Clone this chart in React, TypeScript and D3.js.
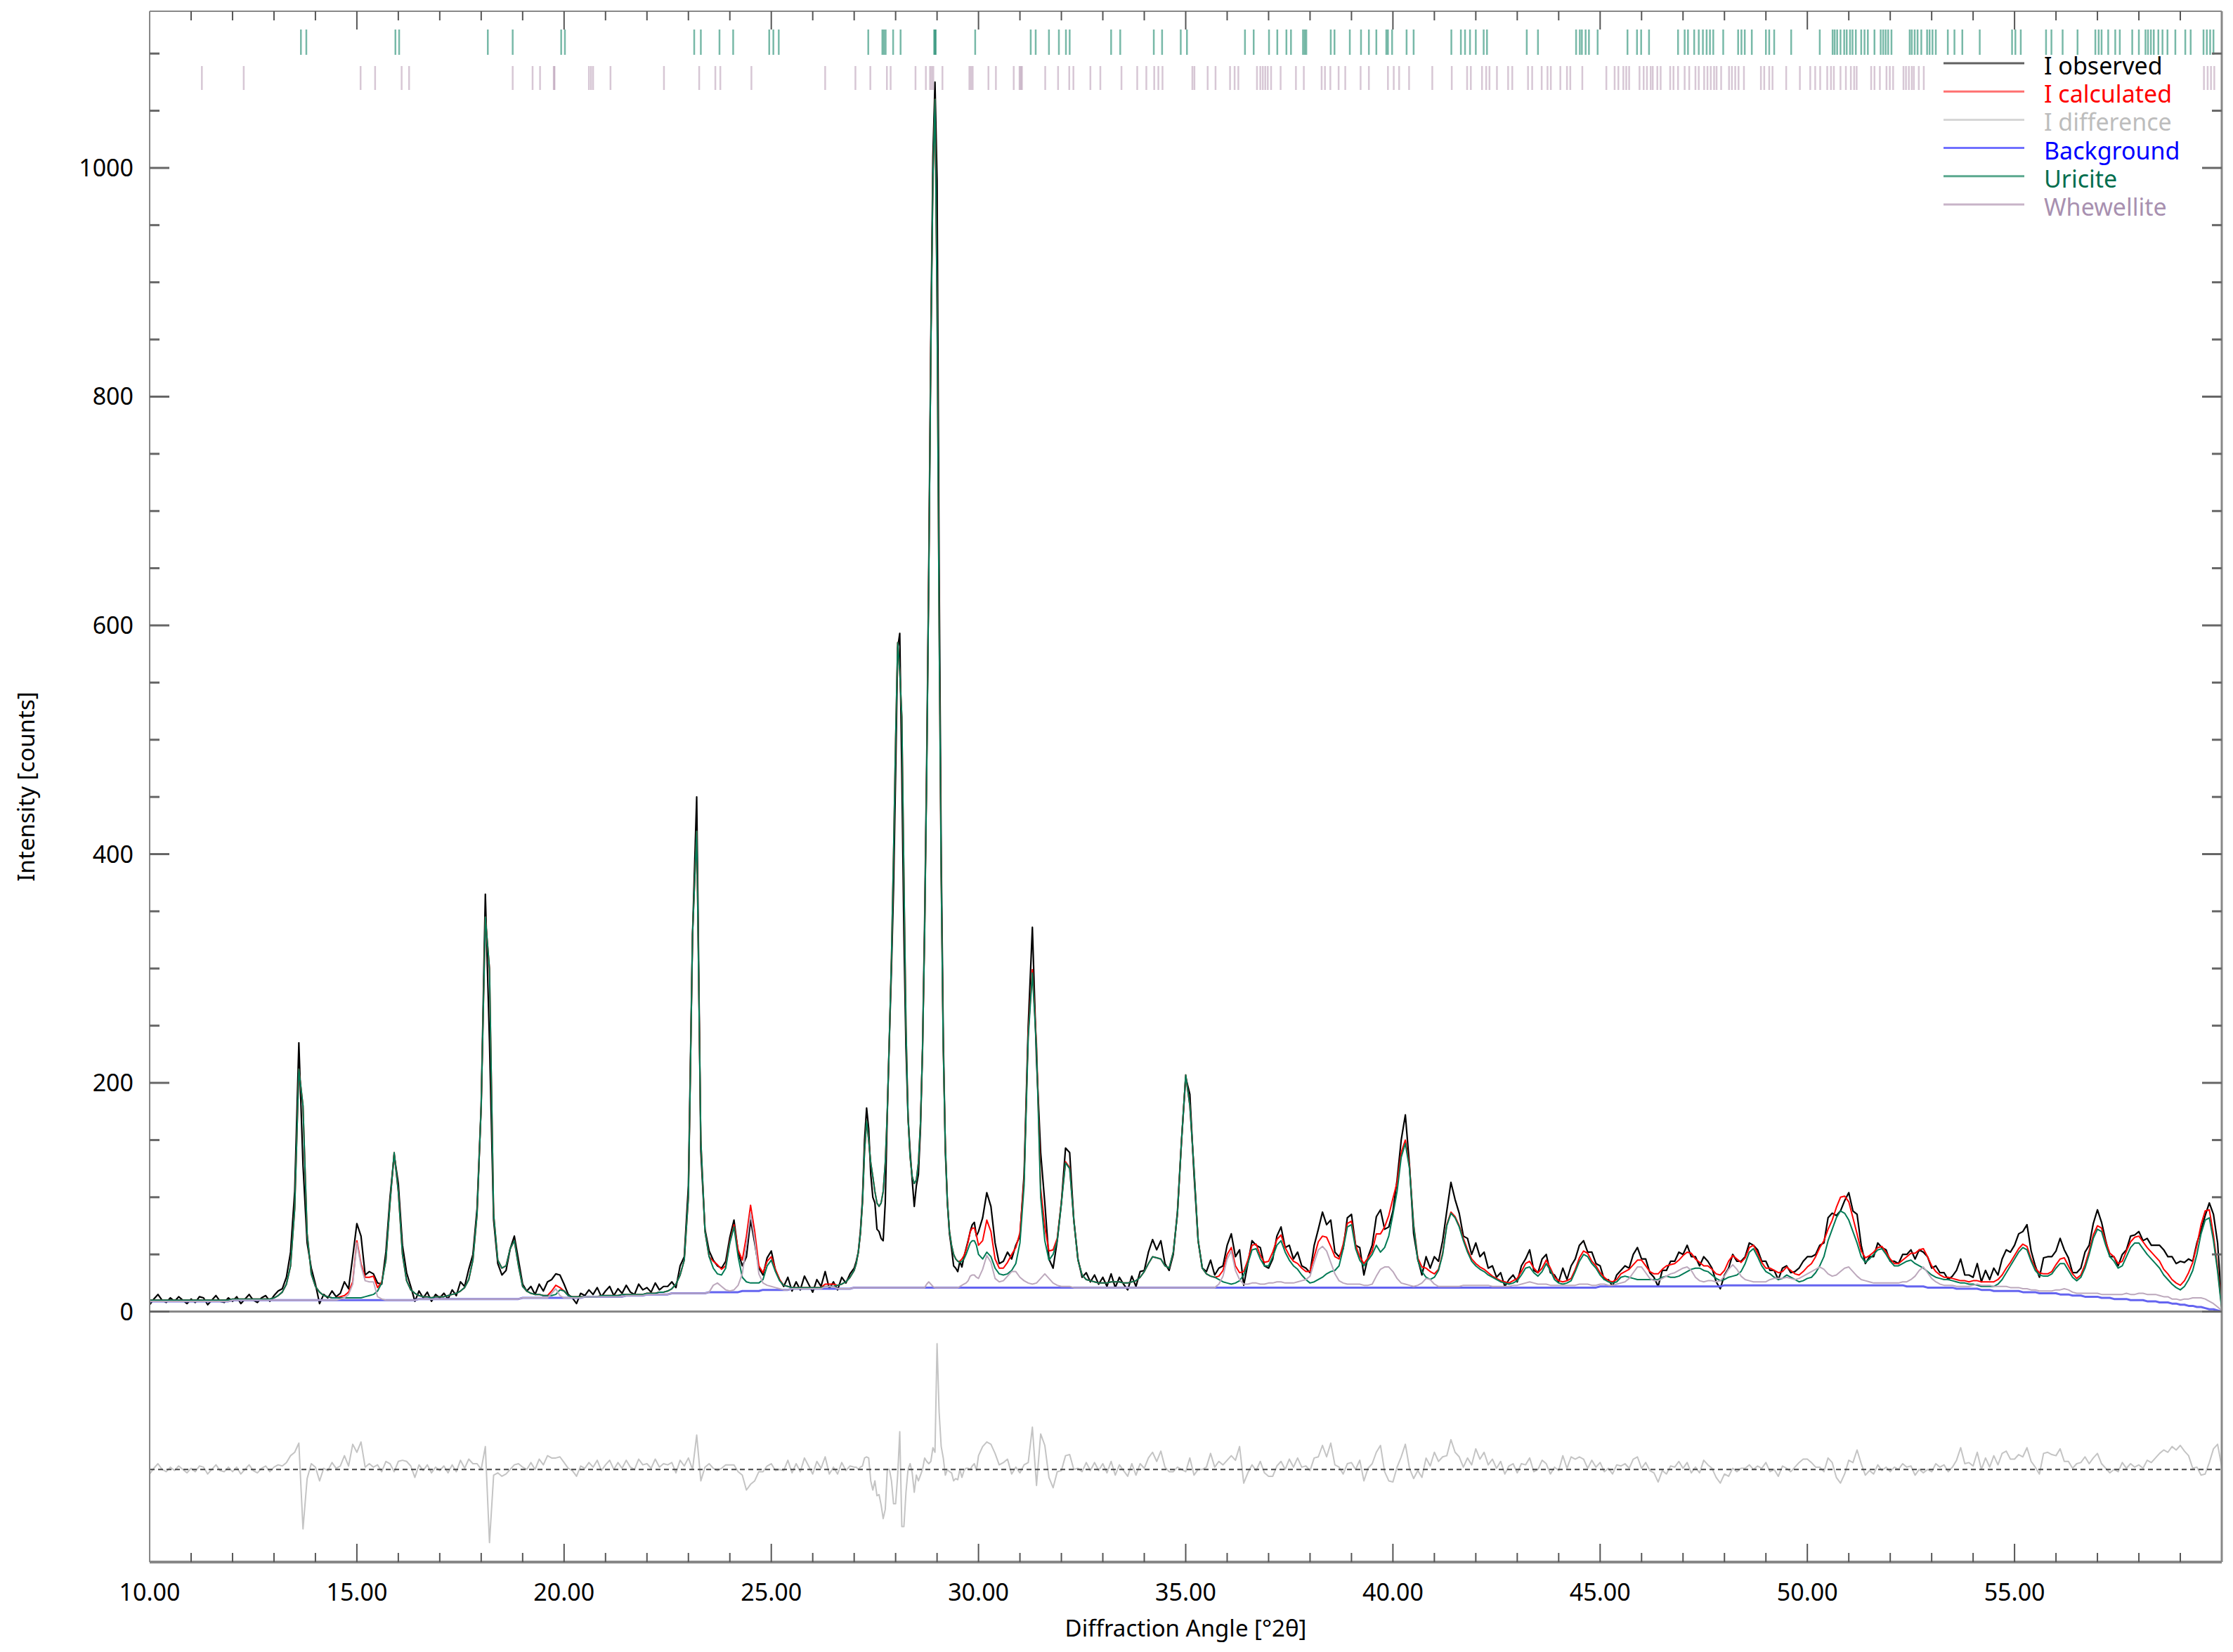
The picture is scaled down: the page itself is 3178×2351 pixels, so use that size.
import React from 'react';
import * as d3 from 'd3';

// 2θ grid of the scan: 0.1° steps, 0.05° around the strongest reflections
const twoTheta: number[] = [
  ...d3.range(100, 270).map((i) => i / 10),
  ...d3.range(540, 600).map((i) => i / 20),
  ...d3.range(300, 601).map((i) => i / 10),
];

// I observed [counts]
const obsA = [
  6, 11, 15, 10, 8, 12, 9, 13, 10, 7,
  11, 8, 13, 12, 6, 10, 14, 9, 8, 12,
  9, 13, 7, 11, 15, 10, 8, 12, 14, 9,
  14, 18, 20, 30, 52, 105, 235, 128, 60, 38,
  24, 7, 15, 12, 18, 13, 16, 26, 20, 48,
  77, 66, 32, 35, 33, 25, 24, 52, 100, 137,
  112, 58, 34, 22, 9, 18, 12, 17, 9, 15,
  12, 16, 11, 19, 14, 26, 22, 37, 50, 90,
  180, 365, 236, 80, 42, 32, 36, 55, 66, 45,
  24, 18, 22, 15, 24, 18, 26, 28, 33, 32,
  24, 15, 12, 7, 16, 14, 19, 15, 21, 13,
  18, 22, 14, 20, 16, 23, 17, 15, 24, 19,
  21, 17, 25, 19, 22, 22, 26, 21, 40, 48,
  110, 330, 450, 140, 72, 53, 45, 40, 38, 44,
  65, 80, 52, 40, 48, 80, 60, 38, 32, 47,
  53, 36, 28, 22, 30, 18, 26, 19, 31, 24,
  17, 28, 22, 35, 20, 26, 19, 30, 25, 33,
];
const obsB = [
  38, 44, 52, 70, 98, 150, 178, 160, 120, 100,
  95, 72, 70, 64, 62, 95, 175, 240, 300, 370,
  470, 580, 593, 470, 330, 230, 170, 140, 115, 92,
  110, 120, 160, 230, 340, 480, 650, 850, 1010, 1075,
  990, 650, 400, 240, 140, 95, 68, 55, 40, 38,
  35, 44, 39, 48, 55, 62, 70, 76, 78, 66,
];
const obsC = [
  70, 82, 104, 92, 60, 42, 44, 52, 46, 58,
  66, 120, 250, 336, 220, 139, 95, 46, 38, 62,
  95, 143, 139, 80, 46, 30, 34, 26, 32, 24,
  30, 22, 33, 21, 30, 24, 19, 31, 22, 35,
  36, 52, 63, 54, 62, 42, 36, 50, 87, 150,
  205, 190, 120, 62, 38, 35, 45, 32, 38, 40,
  58, 68, 48, 54, 23, 42, 62, 58, 56, 40,
  38, 46, 66, 74, 56, 58, 46, 52, 40, 38,
  34, 58, 72, 87, 76, 80, 52, 48, 55, 82,
  85, 58, 56, 32, 48, 58, 83, 89, 72, 74,
  88, 115, 150, 172, 128, 68, 46, 32, 48, 38,
  48, 44, 62, 88, 113, 98, 86, 66, 64, 50,
  60, 48, 52, 38, 40, 30, 34, 22, 28, 32,
  26, 40, 46, 54, 36, 34, 46, 50, 34, 32,
  26, 38, 28, 40, 46, 58, 62, 52, 52, 42,
  40, 28, 28, 22, 32, 36, 40, 38, 50, 56,
  46, 46, 34, 30, 22, 36, 36, 44, 44, 52,
  50, 58, 48, 48, 40, 48, 44, 38, 26, 20,
  32, 38, 50, 44, 44, 48, 60, 58, 54, 44,
  44, 36, 36, 28, 38, 40, 34, 35, 38, 44,
  48, 48, 50, 58, 60, 82, 86, 84, 88, 97,
  104, 88, 85, 58, 42, 48, 48, 60, 56, 54,
  44, 44, 42, 50, 50, 54, 46, 54, 52, 48,
  38, 40, 34, 34, 28, 31, 36, 46, 32, 32,
  30, 42, 26, 36, 28, 38, 32, 46, 54, 52,
  58, 68, 70, 76, 53, 40, 30, 47, 48, 48,
  53, 64, 54, 47, 34, 34, 38, 52, 58, 77,
  89, 78, 62, 48, 48, 40, 50, 54, 66, 67,
  70, 62, 64, 58, 58, 58, 54, 48, 48, 42,
  44, 43, 46, 44, 60, 71, 84, 95, 85, 60,
  5,
];

// Uricite phase curve (background included)
const uriA = [
  10, 10, 10, 10, 10, 10, 10, 10, 10, 10,
  10, 10, 10, 10, 10, 10, 10, 10, 10, 10,
  11, 11, 11, 11, 11, 11, 11, 11, 11, 11,
  12, 14, 17, 24, 40, 90, 212, 180, 68, 33,
  22, 17, 14, 13, 12, 12, 12, 12, 12, 12,
  12, 12, 13, 14, 15, 18, 25, 45, 95, 139,
  105, 50, 27, 19, 16, 14, 13, 13, 12, 13,
  13, 13, 14, 15, 16, 18, 21, 28, 45, 85,
  180, 345, 300, 85, 45, 38, 40, 55, 62, 40,
  22, 18, 16, 15, 15, 14, 14, 14, 15, 19,
  18, 14, 13, 13, 13, 13, 13, 13, 13, 14,
  14, 14, 14, 14, 15, 15, 15, 15, 15, 15,
  16, 16, 16, 17, 17, 18, 20, 24, 32, 45,
  100, 330, 420, 150, 70, 48, 38, 33, 32, 38,
  60, 74, 48, 30, 26, 25, 25, 25, 28, 40,
  45, 35, 27, 23, 22, 21, 21, 21, 21, 21,
  21, 21, 21, 22, 22, 22, 23, 24, 26, 30,
];
const uriB = [
  36, 42, 52, 68, 95, 140, 167, 150, 130, 118,
  105, 95, 92, 95, 105, 130, 175, 240, 310, 400,
  500, 585, 560, 520, 380, 250, 170, 135, 118, 112,
  115, 130, 165, 230, 330, 470, 640, 840, 990, 1060,
  880, 600, 380, 230, 145, 95, 70, 58, 50, 46,
  44, 43, 44, 46, 50, 55, 60, 62, 62, 58,
];
const uriC = [
  50, 46, 52, 48, 38, 33, 32, 33, 36, 42,
  60, 110, 240, 296, 230, 100, 62, 45, 50, 62,
  95, 130, 125, 80, 45, 32, 28, 27, 26, 25,
  25, 25, 26, 26, 26, 25, 25, 26, 27, 30,
  35, 42, 48, 47, 46, 40, 38, 52, 85, 150,
  207, 180, 125, 62, 38, 33, 31, 30, 28, 26,
  25, 24, 25, 27, 32, 42, 54, 55, 46, 40,
  40, 48, 58, 62, 52, 45, 40, 37, 32, 28,
  25, 26, 28, 30, 33, 35, 36, 40, 55, 74,
  76, 55, 45, 40, 45, 50, 58, 52, 56, 66,
  85, 105, 135, 147, 125, 75, 45, 35, 30, 28,
  30, 36, 50, 75, 86, 82, 74, 62, 52, 44,
  40, 37, 35, 32, 30, 28, 26, 25, 24, 25,
  27, 32, 38, 39, 34, 31, 35, 42, 36, 28,
  25, 24, 25, 27, 35, 44, 50, 48, 42, 38,
  32, 28, 26, 25, 26, 30, 31, 30, 29, 28,
  28, 28, 28, 28, 28, 30, 31, 30, 30, 31,
  33, 35, 37, 38, 38, 36, 35, 32, 29, 27,
  28, 30, 31, 32, 35, 42, 52, 55, 48, 40,
  35, 33, 30, 28, 29, 32, 30, 28, 26, 27,
  29, 30, 34, 40, 48, 62, 72, 82, 88, 86,
  80, 70, 60, 48, 43, 46, 50, 54, 55, 50,
  44, 40, 40, 42, 44, 45, 42, 40, 38, 35,
  32, 30, 29, 28, 28, 27, 26, 25, 25, 24,
  24, 23, 22, 22, 22, 22, 24, 28, 34, 40,
  46, 52, 56, 54, 44, 36, 32, 31, 31, 33,
  38, 42, 42, 36, 30, 27, 30, 38, 50, 64,
  72, 70, 58, 48, 44, 38, 40, 48, 56, 60,
  60, 55, 50, 46, 42, 38, 32, 28, 24, 21,
  19, 22, 28, 36, 50, 68, 80, 82, 62, 35,
  2,
];

// Whewellite contribution above the background
const wheA = [
  0, 0, 0, 0, 0, 0, 0, 0, 0, 0,
  0, 0, 0, 0, 0, 0, 0, 0, 0, 0,
  0, 0, 0, 0, 0, 0, 0, 0, 0, 0,
  0, 0, 0, 0, 0, 0, 0, 0, 0, 0,
  0, 0, 0, 0, 0, 0, 1, 2, 5, 14,
  50, 30, 17, 16, 16, 3, 1, 0, 0, 0,
  0, 0, 0, 0, 0, 0, 0, 0, 0, 0,
  0, 0, 0, 0, 0, 0, 0, 0, 0, 0,
  0, 0, 0, 0, 0, 0, 0, 0, 0, 0,
  0, 0, 0, 0, 0, 0, 0, 4, 8, 2,
  0, 0, 0, 0, 0, 0, 0, 0, 0, 0,
  0, 0, 0, 0, 0, 0, 0, 0, 0, 0,
  0, 0, 0, 0, 0, 0, 0, 0, 0, 0,
  0, 0, 0, 0, 0, 0, 6, 8, 5, 2,
  1, 2, 6, 15, 40, 68, 45, 15, 6, 4,
  3, 2, 1, 0, 0, 0, 0, 0, 0, 0,
  0, 0, 0, 2, 2, 2, 0, 0, 0, 0,
];
const wheB = [
  0, 0, 0, 0, 0, 0, 0, 0, 0, 0,
  0, 0, 0, 0, 0, 0, 0, 0, 0, 0,
  0, 0, 0, 0, 0, 0, 0, 0, 0, 0,
  0, 0, 0, 0, 0, 3, 5, 3, 1, 0,
  0, 0, 0, 0, 0, 0, 0, 0, 0, 0,
  0, 1, 2, 3, 4, 6, 10, 11, 11, 9,
];
const wheC = [
  8, 16, 28, 22, 8, 5, 6, 10, 14, 14,
  9, 6, 4, 3, 4, 8, 12, 8, 4, 2,
  1, 1, 1, 0, 0, 0, 0, 0, 0, 0,
  0, 0, 0, 0, 0, 0, 0, 0, 0, 0,
  0, 0, 0, 0, 0, 0, 0, 0, 0, 0,
  0, 0, 0, 0, 0, 0, 0, 0, 3, 10,
  25, 32, 15, 7, 3, 3, 4, 4, 3, 3,
  4, 4, 5, 5, 4, 4, 4, 5, 6, 7,
  10, 22, 33, 36, 32, 22, 12, 6, 4, 3,
  3, 3, 3, 2, 2, 3, 10, 16, 18, 18,
  14, 8, 4, 3, 2, 1, 2, 4, 8, 7,
  3, 1, 1, 1, 1, 1, 1, 2, 2, 2,
  2, 2, 2, 2, 1, 1, 1, 1, 1, 2,
  2, 3, 4, 5, 4, 3, 3, 3, 2, 2,
  2, 2, 2, 2, 2, 3, 3, 3, 2, 2,
  2, 2, 1, 1, 2, 3, 4, 7, 12, 17,
  17, 12, 7, 5, 5, 7, 9, 11, 12, 14,
  16, 17, 14, 8, 5, 4, 5, 5, 4, 5,
  8, 14, 18, 14, 8, 5, 4, 3, 3, 3,
  3, 5, 6, 6, 6, 7, 6, 5, 6, 8,
  10, 12, 14, 16, 14, 10, 8, 9, 12, 15,
  16, 12, 8, 5, 4, 3, 2, 2, 2, 2,
  2, 2, 2, 3, 4, 6, 9, 14, 17, 13,
  8, 5, 3, 2, 2, 2, 2, 2, 2, 2,
  3, 4, 4, 4, 4, 4, 4, 4, 4, 3,
  3, 3, 3, 3, 2, 2, 2, 2, 2, 2,
  3, 4, 5, 4, 3, 2, 2, 3, 3, 3,
  3, 3, 3, 3, 4, 4, 4, 5, 5, 5,
  6, 6, 6, 6, 6, 6, 5, 5, 4, 4,
  4, 5, 6, 7, 8, 8, 8, 7, 5, 3,
  1,
];

// Background
const bgA = [
  9, 9, 9, 9, 9, 9, 9, 9, 9, 9,
  9, 9, 9, 9, 9, 9, 9, 9, 9, 9,
  10, 10, 10, 10, 10, 10, 10, 10, 10, 10,
  10, 10, 10, 10, 10, 10, 10, 10, 10, 10,
  10, 10, 10, 10, 10, 10, 10, 10, 10, 10,
  10, 10, 10, 10, 10, 10, 10, 10, 10, 10,
  10, 10, 10, 10, 10, 11, 11, 11, 11, 11,
  11, 11, 11, 11, 11, 11, 11, 11, 11, 11,
  11, 11, 11, 11, 11, 11, 11, 11, 11, 11,
  12, 12, 12, 12, 12, 12, 12, 12, 12, 12,
  12, 12, 12, 12, 12, 13, 13, 13, 13, 13,
  13, 13, 13, 13, 13, 14, 14, 14, 14, 14,
  15, 15, 15, 15, 15, 15, 16, 16, 16, 16,
  16, 16, 16, 16, 16, 17, 17, 17, 17, 17,
  17, 17, 17, 18, 18, 18, 18, 18, 19, 19,
  19, 19, 19, 19, 19, 20, 20, 20, 20, 20,
  20, 20, 20, 20, 20, 20, 20, 20, 20, 20,
];
const bgB = [
  21, 21, 21, 21, 21, 21, 21, 21, 21, 21,
  21, 21, 21, 21, 21, 21, 21, 21, 21, 21,
  21, 21, 21, 21, 21, 21, 21, 21, 21, 21,
  21, 21, 21, 21, 21, 21, 21, 21, 21, 21,
  21, 21, 21, 21, 21, 21, 21, 21, 21, 21,
  21, 21, 21, 21, 21, 21, 21, 21, 21, 21,
];
const bgC = [
  21, 21, 21, 21, 21, 21, 21, 21, 21, 21,
  21, 21, 21, 21, 21, 21, 21, 21, 21, 21,
  21, 21, 21, 21, 21, 21, 21, 21, 21, 21,
  21, 21, 21, 21, 21, 21, 21, 21, 21, 21,
  21, 21, 21, 21, 21, 21, 21, 21, 21, 21,
  21, 21, 21, 21, 21, 21, 21, 21, 21, 21,
  21, 21, 21, 21, 21, 21, 21, 21, 21, 21,
  21, 21, 21, 21, 21, 21, 21, 21, 21, 21,
  21, 21, 21, 21, 21, 21, 21, 21, 21, 21,
  21, 21, 21, 21, 21, 21, 21, 21, 21, 21,
  21, 21, 21, 21, 21, 21, 21, 21, 21, 21,
  21, 21, 21, 21, 21, 21, 21, 21, 21, 21,
  21, 21, 21, 21, 21, 21, 21, 21, 21, 21,
  21, 21, 21, 21, 21, 21, 21, 21, 21, 21,
  21, 21, 21, 21, 21, 21, 21, 21, 21, 21,
  22, 22, 22, 22, 22, 22, 22, 22, 22, 22,
  22, 22, 22, 22, 22, 22, 22, 22, 22, 22,
  22, 22, 22, 22, 22, 22, 22, 22, 22, 22,
  23, 23, 23, 23, 23, 23, 23, 23, 23, 23,
  23, 23, 23, 23, 23, 23, 23, 23, 23, 23,
  23, 23, 23, 23, 23, 23, 23, 23, 23, 23,
  23, 23, 23, 23, 23, 23, 23, 23, 23, 23,
  23, 23, 23, 23, 22, 22, 22, 22, 22, 21,
  21, 21, 21, 21, 21, 21, 20, 20, 20, 20,
  20, 20, 19, 19, 19, 18, 18, 18, 18, 18,
  18, 18, 17, 17, 17, 17, 16, 16, 16, 16,
  16, 15, 15, 15, 14, 14, 14, 13, 13, 13,
  13, 12, 12, 12, 11, 11, 11, 11, 10, 10,
  10, 10, 9, 9, 9, 8, 8, 8, 7, 7,
  6, 6, 5, 5, 4, 4, 3, 2, 2, 1,
  0,
];

// reflection positions (°2θ)
const uriciteTicks = [
  13.65, 13.78, 15.93, 16.02, 18.16, 18.76, 19.93, 20.02, 23.14, 23.3, 23.75, 24.08,
  24.95, 25.05, 25.18, 27.34, 27.68, 27.72, 27.76, 27.94, 28.12, 28.93, 28.95, 28.97,
  29.92, 31.26, 31.38, 31.7, 31.94, 32.11, 32.2, 33.2, 33.42, 34.23, 34.43, 34.88,
  35.03, 36.43, 36.64, 37.01, 37.21, 37.43, 37.54, 37.83, 37.87, 37.91, 38.5, 38.59,
  38.96, 39.23, 39.42, 39.6, 39.84, 39.88, 39.98, 40.33, 40.5, 41.41, 41.64, 41.74,
  41.86, 42.0, 42.19, 42.27, 43.23, 43.5, 44.42, 44.51, 44.56, 44.65, 44.73, 44.94,
  45.66, 45.89, 45.99, 46.18, 46.88, 47.04, 47.12, 47.27, 47.38, 47.48, 47.57, 47.65,
  47.73, 47.97, 48.33, 48.41, 48.49, 48.66, 49.0, 49.08, 49.2, 49.61, 50.3, 50.61,
  50.66, 50.72, 50.8, 50.89, 50.95, 51.03, 51.09, 51.17, 51.3, 51.38, 51.46, 51.62,
  51.77, 51.83, 51.89, 51.95, 52.03, 52.47, 52.52, 52.59, 52.66, 52.75, 52.89, 52.95,
  53.02, 53.1, 53.39, 53.55, 53.74, 54.16, 54.94, 55.02, 55.15, 55.76, 55.89, 56.16,
  56.52, 56.95, 57.03, 57.1, 57.26, 57.43, 57.54, 57.84, 58.0, 58.16, 58.22, 58.29,
  58.36, 58.47, 58.57, 58.69, 58.88, 59.12, 59.25, 59.56, 59.64, 59.72, 59.8,
];
const whewelliteTicks = [
  11.26, 12.27, 15.09, 15.44, 16.08, 16.26, 18.76, 19.24, 19.42, 19.75, 19.77, 20.6,
  20.65, 20.7, 21.12, 22.41, 23.26, 23.65, 23.77, 24.52, 26.3, 27.03, 27.39, 27.79,
  27.88, 28.48, 28.73, 28.83, 28.87, 28.91, 29.13, 29.78, 29.82, 29.86, 30.24, 30.42,
  30.85, 30.99, 31.02, 31.05, 31.61, 31.92, 32.19, 32.29, 32.7, 32.94, 33.45, 33.83,
  34.05, 34.24, 34.34, 34.44, 35.16, 35.21, 35.53, 35.72, 36.07, 36.18, 36.27, 36.72,
  36.8, 36.86, 36.92, 36.98, 37.06, 37.29, 37.66, 37.85, 38.28, 38.36, 38.49, 38.69,
  38.85, 39.22, 39.42, 39.88, 40.02, 40.15, 40.39, 40.95, 41.42, 41.79, 41.88, 42.15,
  42.25, 42.33, 42.51, 42.78, 42.88, 43.26, 43.36, 43.59, 43.73, 43.81, 44.04, 44.2,
  44.28, 44.57, 45.15, 45.35, 45.44, 45.56, 45.63, 45.7, 45.95, 46.05, 46.13, 46.22,
  46.27, 46.38, 46.46, 46.69, 46.77, 46.88, 47.04, 47.15, 47.3, 47.38, 47.51, 47.59,
  47.67, 47.75, 47.81, 47.92, 48.11, 48.18, 48.26, 48.34, 48.47, 48.88, 48.96, 49.08,
  49.16, 49.49, 49.82, 50.07, 50.19, 50.31, 50.48, 50.57, 50.64, 50.8, 50.93, 51.05,
  51.13, 51.19, 51.54, 51.62, 51.75, 51.91, 51.99, 52.07, 52.32, 52.38, 52.45, 52.52,
  52.57, 52.69, 52.81, 59.57, 59.66, 59.74, 59.82,
];

const xTickLabels = [10, 15, 20, 25, 30, 35, 40, 45, 50, 55];
const yTickLabels = [0, 200, 400, 600, 800, 1000];

const legendItems = [
  { label: 'I observed', line: '#606060', text: '#000000' },
  { label: 'I calculated', line: '#ff7070', text: '#ff0000' },
  { label: 'I difference', line: '#d6d6d6', text: '#bdbdbd' },
  { label: 'Background', line: '#7070ff', text: '#0000ff' },
  { label: 'Uricite', line: '#5aa88e', text: '#006e4e' },
  { label: 'Whewellite', line: '#c8b4c8', text: '#a890b0' },
];

const W = 3178;
const H = 2351;
const left = 213;
const right = 3162;
const top = 16;
const bottom = 2223;
const diffOffset = -138;
const font = '"Noto Sans", "DejaVu Sans", sans-serif';

export default function App() {
  const observed = [...obsA, ...obsB, ...obsC];
  const uricite = [...uriA, ...uriB, ...uriC];
  const wheExcess = [...wheA, ...wheB, ...wheC];
  const background = [...bgA, ...bgB, ...bgC];
  const calculated = uricite.map((u, i) => u + wheExcess[i]);
  const whewellite = background.map((b, i) => b + wheExcess[i]);
  const difference = observed.map((o, i) => o - calculated[i] + diffOffset);

  const x = d3.scaleLinear().domain([10, 60]).range([left, right]);
  const y = d3.scaleLinear().domain([-219, 1137]).range([bottom, top]);

  const line = d3
    .line<number>()
    .x((_, i) => x(twoTheta[i]))
    .y((d) => y(d));

  const fmt = d3.format('.2f');
  const degTicks = d3.range(11, 60);
  const countTicks = d3.range(0, 1101, 50);

  return (
    <svg
      width={W}
      height={H}
      viewBox={`0 0 ${W} ${H}`}
      style={{ position: 'absolute', left: 0, top: 0, display: 'block', background: '#fff' }}
      fontFamily={font}
    >
      <defs>
        <clipPath id="plot">
          <rect x={left} y={top} width={right - left} height={bottom - top} />
        </clipPath>
      </defs>
      <rect width={W} height={H} fill="#fff" />

      {/* curves */}
      <g clipPath="url(#plot)" fill="none" strokeLinejoin="round">
        <path d={line(observed) || ''} stroke="#000" strokeWidth={2.2} />
        <path d={line(calculated) || ''} stroke="#ff0000" strokeWidth={2} />
        <path d={line(difference) || ''} stroke="#c4c4c4" strokeWidth={2} />
        <line
          x1={left}
          x2={right}
          y1={y(diffOffset)}
          y2={y(diffOffset)}
          stroke="#444"
          strokeWidth={2}
          strokeDasharray="7 5"
        />
        <path d={line(background) || ''} stroke="#6464f0" strokeWidth={3} />
        <path d={line(uricite) || ''} stroke="#007a55" strokeWidth={2} />
        <path d={line(whewellite) || ''} stroke="#bca8bc" strokeWidth={2} />
      </g>

      {/* reflection markers */}
      <g strokeWidth={2.5}>
        {uriciteTicks.map((d, i) => (
          <line key={`u${i}`} x1={x(d)} x2={x(d)} y1={42} y2={78} stroke="#0a8060" strokeOpacity={0.55} />
        ))}
        {whewelliteTicks.map((d, i) => (
          <line key={`w${i}`} x1={x(d)} x2={x(d)} y1={94} y2={128} stroke="#9a7395" strokeOpacity={0.4} />
        ))}
      </g>

      {/* zero line */}
      <line x1={left} x2={right} y1={y(0)} y2={y(0)} stroke="#888" strokeWidth={3} />

      {/* frame */}
      <line x1={left} x2={right} y1={top} y2={top} stroke="#888" strokeWidth={2} />
      <line x1={left} x2={left} y1={top} y2={bottom} stroke="#888" strokeWidth={2} />
      <line x1={right} x2={right} y1={top} y2={bottom} stroke="#888" strokeWidth={3} />
      <line x1={left} x2={right} y1={bottom} y2={bottom} stroke="#888" strokeWidth={4} />

      {/* 2θ ticks, top and bottom, pointing inward */}
      <g stroke="#555" strokeWidth={2}>
        {degTicks.map((d) => {
          const len = d % 5 === 0 ? 26 : 13;
          return (
            <g key={`t${d}`}>
              <line x1={x(d)} x2={x(d)} y1={top} y2={top + len} />
              <line x1={x(d)} x2={x(d)} y1={bottom} y2={bottom - len} />
            </g>
          );
        })}
      </g>

      {/* count ticks, left and right */}
      <g stroke="#666" strokeWidth={3}>
        {countTicks.map((c) => {
          const len = c % 200 === 0 ? 28 : 14;
          return (
            <g key={`c${c}`}>
              <line x1={left} x2={left + len} y1={y(c)} y2={y(c)} />
              <line x1={right} x2={right - len} y1={y(c)} y2={y(c)} />
            </g>
          );
        })}
      </g>

      {/* tick labels */}
      <g fontSize={34} fill="#000">
        {xTickLabels.map((d) => (
          <text key={`xl${d}`} x={x(d)} y={2278} textAnchor="middle">
            {fmt(d)}
          </text>
        ))}
        {yTickLabels.map((c) => (
          <text key={`yl${c}`} x={190} y={y(c) + 12} textAnchor="end">
            {c}
          </text>
        ))}
      </g>

      {/* axis titles */}
      <text x={(left + right) / 2} y={2329} textAnchor="middle" fontSize={33}>
        Diffraction Angle [°2θ]
      </text>
      <text
        transform={`translate(36, ${(top + bottom) / 2}) rotate(-90)`}
        textAnchor="middle"
        dominantBaseline="central"
        fontSize={33}
      >
        Intensity [counts]
      </text>

      {/* legend */}
      <g>
        <rect x={2745} y={81} width={385} height={228} fill="#fff" />
        {legendItems.map((item, i) => {
          const ly = 90 + i * 40.2;
          return (
            <g key={item.label}>
              <line x1={2766} x2={2881} y1={ly} y2={ly} stroke={item.line} strokeWidth={3} />
              <text x={2909} y={ly + 16} fontSize={34} fill={item.text}>
                {item.label}
              </text>
            </g>
          );
        })}
      </g>
    </svg>
  );
}
